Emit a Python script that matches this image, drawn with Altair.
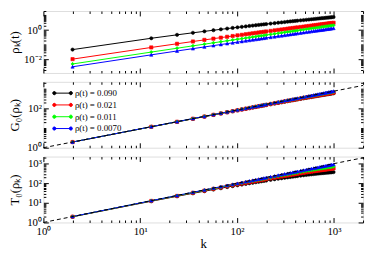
import altair as alt
import pandas as pd

# ---------------- data ----------------
k_vals = [2, 13, 24, 35, 46, 57, 68, 79, 90, 101, 112, 123, 134, 145, 156, 167, 178, 189, 200,
          222, 244, 266, 288, 310, 332, 354, 376, 398, 420,
          453, 486, 519, 552, 585, 618, 651, 684, 717, 750, 783, 816, 849, 882, 915, 948, 992]

series_names = ["ρ(t) = 0.090", "ρ(t) = 0.021", "ρ(t) = 0.011", "ρ(t) = 0.0070"]
series_colors = ["#000000", "#ff0000", "#00ff00", "#0000ff"]
series_shapes = ["circle", "square", "diamond", "triangle-up"]

# panel 1 : rho_k(t)
rho_black = [0.0469, 0.278, 0.475, 0.655, 0.821, 0.978, 1.13, 1.27, 1.41, 1.54, 1.67, 1.79, 1.91, 2.03, 2.14, 2.25, 2.36, 2.47, 2.57,
             2.78, 2.98, 3.17, 3.35, 3.53, 3.71, 3.88, 4.05, 4.21, 4.37,
             4.60, 4.83, 5.05, 5.26, 5.47, 5.68, 5.88, 6.07, 6.26, 6.45, 6.64, 6.82, 6.99, 7.17, 7.34, 7.51, 7.73]
rho_red = [0.0105, 0.0658, 0.117, 0.167, 0.215, 0.261, 0.307, 0.351, 0.395, 0.438, 0.480, 0.522, 0.564, 0.604, 0.645, 0.684, 0.724, 0.763, 0.802,
           0.879, 0.955, 1.03, 1.10, 1.17, 1.25, 1.32, 1.39, 1.46, 1.52,
           1.63, 1.73, 1.83, 1.92, 2.02, 2.12, 2.21, 2.31, 2.40, 2.49, 2.58, 2.67, 2.76, 2.85, 2.94, 3.03, 3.15]
rho_green = [0.00491, 0.0318, 0.0582, 0.0844, 0.110, 0.136, 0.161, 0.187, 0.212, 0.237, 0.262, 0.287, 0.312, 0.337, 0.361, 0.386, 0.410, 0.435, 0.459,
             0.508, 0.556, 0.604, 0.652, 0.700, 0.747, 0.795, 0.842, 0.889, 0.936,
             1.01, 1.08, 1.15, 1.22, 1.29, 1.35, 1.42, 1.49, 1.56, 1.63, 1.70, 1.76, 1.83, 1.90, 1.97, 2.03, 2.12]
rho_blue = [0.00317, 0.0206, 0.0377, 0.0545, 0.0712, 0.0877, 0.104, 0.120, 0.136, 0.152, 0.168, 0.184, 0.200, 0.216, 0.231, 0.247, 0.262, 0.278, 0.293,
            0.324, 0.354, 0.384, 0.414, 0.444, 0.474, 0.504, 0.533, 0.563, 0.592,
            0.636, 0.679, 0.723, 0.766, 0.809, 0.852, 0.894, 0.937, 0.979, 1.02, 1.06, 1.11, 1.15, 1.19, 1.23, 1.27, 1.33]

# panel 2 : G0(rho_k)
g_black = [1.94, 11.6, 20.8, 29.7, 38.4, 46.9, 55.3, 63.6, 71.8, 79.9, 87.9, 95.8, 104, 111, 119, 127, 134, 142, 149,
           164, 179, 193, 207, 221, 235, 249, 262, 276, 289,
           309, 328, 347, 366, 385, 403, 421, 439, 457, 475, 492, 509, 526, 543, 559, 576, 597]
g_red = [1.94, 11.7, 21.0, 30.0, 38.9, 47.6, 56.2, 64.7, 73.2, 81.5, 89.8, 98.0, 106, 114, 122, 130, 138, 146, 154,
         170, 185, 200, 215, 230, 245, 260, 274, 289, 303,
         325, 346, 367, 387, 408, 428, 448, 468, 488, 508, 527, 547, 566, 585, 604, 623, 647]
g_green = [1.95, 11.7, 21.1, 30.3, 39.4, 48.3, 57.1, 65.9, 74.6, 83.2, 91.7, 100, 109, 117, 126, 134, 142, 151, 159,
           175, 191, 208, 224, 240, 255, 271, 287, 303, 318,
           341, 364, 387, 410, 432, 455, 477, 499, 521, 543, 565, 587, 608, 630, 652, 673, 701]
g_blue = [1.95, 11.8, 21.3, 30.7, 39.9, 49.1, 58.2, 67.2, 76.2, 85.2, 94.1, 103, 112, 121, 129, 138, 147, 156, 164,
          182, 199, 216, 234, 251, 268, 285, 302, 319, 336,
          361, 387, 412, 437, 462, 487, 512, 537, 562, 587, 612, 637, 661, 686, 711, 736, 769]
g_dash_k = [1, 2000]
g_dash_v = [1, 1500]

# panel 3 : T0(rho_k)
t_black = [1.95, 12.1, 21.6, 30.7, 39.4, 47.7, 55.8, 63.7, 71.3, 78.6, 85.8, 92.8, 99.6, 106, 113, 119, 125, 131, 137,
           149, 160, 170, 180, 190, 199, 208, 217, 225, 233,
           245, 256, 266, 276, 285, 294, 303, 311, 319, 326, 333, 340, 346, 352, 358, 363, 370]
t_red = [1.97, 12.5, 22.6, 32.5, 42.2, 51.6, 60.9, 70.0, 79.0, 87.8, 96.5, 105, 114, 122, 130, 138, 146, 154, 162,
         177, 193, 207, 222, 236, 250, 263, 277, 290, 303,
         321, 340, 358, 375, 392, 409, 425, 441, 456, 471, 486, 500, 514, 528, 542, 555, 572]
t_green = [1.98, 12.7, 23.1, 33.4, 43.6, 53.6, 63.5, 73.3, 83.0, 92.6, 102, 112, 121, 130, 139, 148, 157, 166, 175,
           193, 210, 228, 245, 261, 278, 294, 310, 326, 342,
           365, 389, 411, 433, 456, 477, 499, 520, 540, 561, 581, 601, 621, 640, 660, 679, 704]
t_blue = [2.00, 12.9, 23.8, 34.7, 45.5, 56.3, 67.1, 77.8, 88.5, 99.2, 110, 121, 131, 142, 153, 163, 174, 184, 195,
          216, 237, 258, 279, 300, 320, 341, 362, 383, 403,
          434, 465, 495, 526, 557, 587, 617, 647, 678, 708, 738, 768, 798, 827, 857, 887, 926]
t_dash_k = [1, 2000]
t_dash_v = [1, 2000]

# axis tick values / labels
x_domain = [1, 2000]
x_major = [1, 10, 100, 1000]
y1_domain = [0.0012, 20]
y1_major = [0.01, 1]
y2_domain = [1, 2300]
y2_major = [1, 100]
y3_domain = [1, 2300]
y3_major = [1, 10, 100, 1000]

# ---------------- helpers ----------------
FONT = "Liberation Serif"
W = 325
H1, H2, H3 = 63, 67, 67
SP = 9
SUP = {"-": "⁻", "0": "⁰", "1": "¹", "2": "²", "3": "³"}


def exp10(v):
    e = 0
    x = v
    while x >= 9.999:
        x /= 10
        e += 1
    while x < 0.999:
        x *= 10
        e -= 1
    return e


def label_expr(values):
    expr = "''"
    for v in reversed(values):
        s = "10" + "".join(SUP[c] for c in str(exp10(v)))
        expr = f"datum.value == {v!r} ? '{s}' : ({expr})"
    return expr


def minor_ticks(lo, hi, majors):
    out = []
    for e in range(-4, 5):
        for m in range(1, 10):
            v = float(f"{m}e{e}")
            if lo * 0.9999 <= v <= hi * 1.0001 and v not in majors:
                out.append(v)
    return out


def long_df(lists):
    rows = []
    for si, (name, vals) in enumerate(zip(series_names, lists)):
        for k, v in zip(k_vals, vals):
            rows.append({"k": k, "v": v, "series": name, "o": si})
    return pd.DataFrame(rows)


cscale = alt.Scale(domain=series_names, range=series_colors)
sscale = alt.Scale(domain=[0, 1, 2, 3], range=series_shapes)

# legend symbol: short line with a dot at each end (path is scaled by sqrt(size)/2)
LEG_PATH = ("M-2.1,0L2.1,0"
            "M-2.5,0a0.4,0.4 0 1,0 0.8,0a0.4,0.4 0 1,0 -0.8,0"
            "M1.7,0a0.4,0.4 0 1,0 0.8,0a0.4,0.4 0 1,0 -0.8,0")


def tick_axis(orient, offset, values, size):
    return alt.Axis(orient=orient, offset=offset, values=values, tickSize=size,
                    ticks=True, labels=False, domain=False, grid=False, title=None,
                    tickColor="black", tickWidth=1)


def panel(lists, ydom, ymajor, ylabels, ytitle, H, dash=None, bottom=False, legend=False):
    df = long_df(lists)
    xs = alt.Scale(type="log", domain=x_domain, nice=False)
    ys = alt.Scale(type="log", domain=ydom, nice=False)
    if bottom:
        xaxis = alt.Axis(orient="bottom", values=x_major, labelExpr=label_expr(x_major),
                         ticks=False, tickSize=0, domain=False, grid=False,
                         labelFont=FONT, labelFontSize=11, labelPadding=3, labelColor="black",
                         labelFlush=False, labelOverlap=False,
                         title="k", titleFont=FONT, titleFontSize=13, titleFontWeight="normal",
                         titleColor="black", titleBaseline="alphabetic", titleY=25)
    else:
        xaxis = None
    yaxis = alt.Axis(orient="left", values=ylabels, labelExpr=label_expr(ylabels),
                     ticks=False, tickSize=0, domain=False, grid=False,
                     labelFont=FONT, labelFontSize=11, labelPadding=2, labelColor="black",
                     labelFlush=False, labelOverlap=False,
                     title=ytitle, titleFont=FONT, titleFontSize=13, titleFontWeight="normal",
                     titleColor="black", titleX=-22, titleY=H / 2, titleBaseline="bottom")

    if legend:
        leg = alt.Legend(title=None, orient="none", legendX=15, legendY=7,
                         symbolType=LEG_PATH, symbolSize=64, symbolStrokeWidth=1,
                         symbolOpacity=1, labelFont=FONT, labelFontSize=9, labelColor="black",
                         labelOffset=8, rowPadding=2, padding=0)
    else:
        leg = None

    lines = alt.Chart(df).mark_line(strokeWidth=1).encode(
        x=alt.X("k:Q", scale=xs, axis=xaxis),
        y=alt.Y("v:Q", scale=ys, axis=yaxis),
        color=alt.Color("series:N", scale=cscale, legend=leg),
    )
    pts = alt.Chart(df).mark_point(filled=True, size=11, strokeWidth=0.6, opacity=1).encode(
        x=alt.X("k:Q", scale=xs, axis=None),
        y=alt.Y("v:Q", scale=ys, axis=None),
        color=alt.Color("series:N", scale=cscale, legend=leg),
        stroke=alt.Stroke("series:N", scale=cscale, legend=leg),
        shape=alt.Shape("o:N", scale=sscale, legend=None),
    )
    layers = [lines, pts]
    if dash is not None:
        ddf = pd.DataFrame({"k": dash[0], "v": dash[1]})
        layers.append(alt.Chart(ddf).mark_line(color="black", strokeWidth=1, strokeDash=[4, 3]).encode(
            x=alt.X("k:Q", scale=xs, axis=None),
            y=alt.Y("v:Q", scale=ys, axis=None)))
    x_minor = minor_ticks(x_domain[0], x_domain[1], x_major)
    y_minor = minor_ticks(ydom[0], ydom[1], ymajor)
    for xo, yo in [("top", "right"), ("bottom", "left")]:
        for xv, yv, size in [(x_major, ymajor, 5), (x_minor, y_minor, 2.5)]:
            layers.append(alt.Chart(df).mark_point(opacity=0).encode(
                x=alt.X("k:Q", scale=xs, axis=tick_axis(xo, -H, xv, size)),
                y=alt.Y("v:Q", scale=ys, axis=tick_axis(yo, -W, yv, size))))
    return alt.layer(*layers).resolve_axis(x="independent", y="independent").properties(width=W, height=H)


p1 = panel([rho_black, rho_red, rho_green, rho_blue], y1_domain, y1_major, [0.01, 1], "ρₖ(t)", H1)
p2 = panel([g_black, g_red, g_green, g_blue], y2_domain, y2_major, [1, 100], "G₀(ρₖ)", H2,
           dash=(g_dash_k, g_dash_v), legend=True)
p3 = panel([t_black, t_red, t_green, t_blue], y3_domain, y3_major, [1, 10, 100, 1000], "T₀(ρₖ)", H3,
           dash=(t_dash_k, t_dash_v), bottom=True)

chart = (alt.vconcat(p1, p2, p3, spacing=SP, bounds="flush")
         .resolve_scale(color="independent", stroke="independent", shape="independent")
         .properties(padding=0)
         .configure_view(stroke="black", strokeWidth=1)
         .configure(background="white"))

chart.save("out.html", embed_options={"renderer": "svg", "actions": False})
